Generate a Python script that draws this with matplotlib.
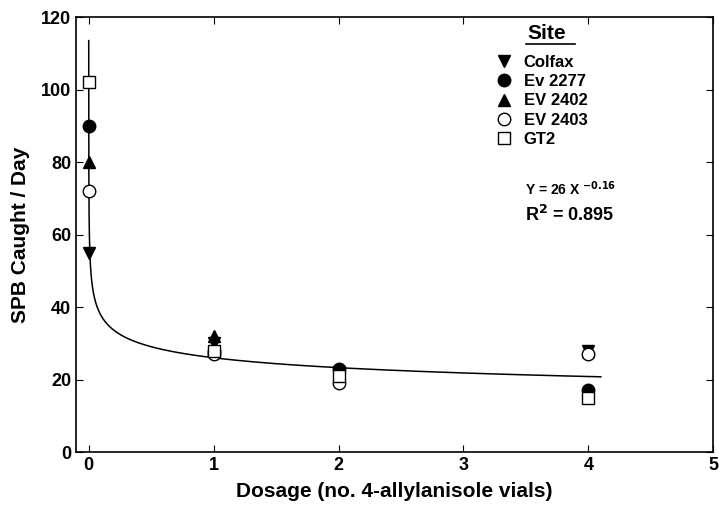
import matplotlib.pyplot as plt
import numpy as np

plt.rcParams['font.family'] = 'Liberation Sans'
plt.rcParams['font.weight'] = 'bold'
plt.rcParams['axes.labelweight'] = 'bold'

# data
sites = ['Colfax', 'Ev 2277', 'EV 2402', 'EV 2403', 'GT2']
dosage = [0, 1, 2, 4]
colfax = [55, 30, 22, 28]
ev2277 = [90, 28, 23, 17]
ev2402 = [80, 32, 22, 28]
ev2403 = [72, 27, 19, 27]
gt2 = [102, 28, 21, 15]

# fitted power curve Y = 26 X^-0.16
fit_a = 26
fit_b = -0.16

fig = plt.figure(figsize=(7.19, 5.16), dpi=100)
ax = fig.add_axes([0.106, 0.124, 0.886, 0.843])

styles = [
    (colfax, 'v', 'black'),
    (ev2277, 'o', 'black'),
    (ev2402, '^', 'black'),
    (ev2403, 'o', 'white'),
    (gt2, 's', 'white'),
]
handles = []
for (vals, m, fc), name in zip(styles, sites):
    ms = 8 if m == 's' else 9
    h, = ax.plot(dosage, vals, linestyle='none', marker=m, markersize=ms,
                 markerfacecolor=fc, markeredgecolor='black', markeredgewidth=1,
                 label=name, zorder=3)
    handles.append(h)

xf = np.linspace(1e-4, 4.1, 2000)
xf = np.concatenate([np.geomspace(1e-4, 0.05, 400), xf[xf > 0.05]])
ax.plot(xf, fit_a * xf ** fit_b, color='black', linewidth=1.1, zorder=2)

ax.set_xlim(-0.1, 5)
ax.set_ylim(0, 120)
ax.set_xticks([0, 1, 2, 3, 4, 5])
ax.set_yticks([0, 20, 40, 60, 80, 100, 120])
ax.tick_params(direction='in', top=True, right=True, labelsize=13, length=5)
for s in ax.spines.values():
    s.set_linewidth(1.2)

ax.set_xlabel('Dosage (no. 4-allylanisole vials)', fontsize=15, labelpad=6)
ax.set_ylabel('SPB Caught / Day', fontsize=15, labelpad=8)

leg = ax.legend(handles=handles, loc='upper left', bbox_to_anchor=(0.645, 0.928),
                frameon=False, fontsize=12, handlelength=1.2, handletextpad=0.6,
                labelspacing=0.25, borderaxespad=0)
ax.text(0.708, 0.985, 'Site', transform=ax.transAxes, fontsize=15,
        ha='left', va='top')
ax.plot([0.706, 0.783], [0.937, 0.937], transform=ax.transAxes,
        color='black', linewidth=1.2, clip_on=False)

ax.text(0.705, 0.605, r'Y = 26 X $^{\mathbf{-0.16}}$', transform=ax.transAxes,
        fontsize=10, ha='left', va='center')
ax.text(0.705, 0.545, r'R$^{\mathbf{2}}$ = 0.895', transform=ax.transAxes,
        fontsize=13, ha='left', va='center')

plt.savefig('out.png', dpi=100)
